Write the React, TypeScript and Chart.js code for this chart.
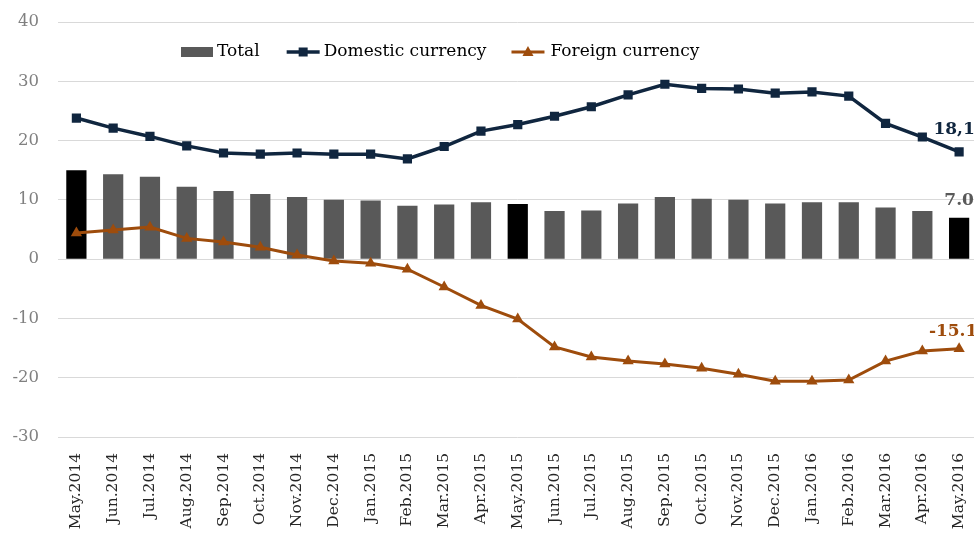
import React, { useEffect, useRef } from "react";
import { Chart, registerables } from "chart.js";

Chart.register(...registerables);

const categories = [
  "May.2014", "Jun.2014", "Jul.2014", "Aug.2014", "Sep.2014", "Oct.2014", "Nov.2014", "Dec.2014",
  "Jan.2015", "Feb.2015", "Mar.2015", "Apr.2015", "May.2015", "Jun.2015", "Jul.2015", "Aug.2015",
  "Sep.2015", "Oct.2015", "Nov.2015", "Dec.2015", "Jan.2016", "Feb.2016", "Mar.2016", "Apr.2016", "May.2016",
];
const total = [15.0, 14.3, 13.9, 12.2, 11.5, 11.0, 10.5, 10.0, 9.9, 9.0, 9.2, 9.6, 9.3, 8.1, 8.2, 9.4, 10.5, 10.2, 10.0, 9.4, 9.6, 9.6, 8.7, 8.1, 7.0];
const domestic = [23.8, 22.1, 20.7, 19.1, 17.9, 17.7, 17.9, 17.7, 17.7, 16.9, 19.0, 21.6, 22.7, 24.1, 25.7, 27.7, 29.5, 28.8, 28.7, 28.0, 28.2, 27.5, 22.9, 20.6, 18.1];
const foreign = [4.4, 4.9, 5.4, 3.5, 2.9, 2.0, 0.7, -0.3, -0.7, -1.7, -4.7, -7.8, -10.1, -14.8, -16.5, -17.2, -17.7, -18.4, -19.4, -20.6, -20.6, -20.4, -17.2, -15.5, -15.1];
const highlighted = ["May.2014", "May.2015", "May.2016"];
const seriesNames = ["Total", "Domestic currency", "Foreign currency"];
const endLabels = ["7.0", "18,1", "-15.1"];
const yMin = -30;
const yMax = 40;
const yStep = 10;

const GREY = "#595959";
const NAVY = "#10263f";
const BROWN = "#9e4c0c";
const FONT = '"DejaVu Serif", serif';

const overlayPlugin = {
  id: "overlay",
  afterDatasetsDraw(chart: any) {
    const ctx = chart.ctx;
    const { left, top } = chart.chartArea;
    ctx.save();
    // legend
    ctx.font = `17px ${FONT}`;
    ctx.textBaseline = "middle";
    ctx.textAlign = "left";
    const ly = top + 30;
    let x = left + 123;
    ctx.fillStyle = GREY;
    ctx.fillRect(x, ly - 5, 32, 10);
    x += 36;
    ctx.fillStyle = "#000";
    ctx.fillText(seriesNames[0], x, ly);
    x += ctx.measureText(seriesNames[0]).width + 27;
    // domestic
    ctx.strokeStyle = NAVY;
    ctx.lineWidth = 3.5;
    ctx.beginPath();
    ctx.moveTo(x, ly);
    ctx.lineTo(x + 33, ly);
    ctx.stroke();
    ctx.fillStyle = NAVY;
    ctx.fillRect(x + 16.5 - 4.5, ly - 4.5, 9, 9);
    x += 37;
    ctx.fillStyle = "#000";
    ctx.fillText(seriesNames[1], x, ly);
    x += ctx.measureText(seriesNames[1]).width + 25;
    // foreign
    ctx.strokeStyle = BROWN;
    ctx.lineWidth = 3;
    ctx.beginPath();
    ctx.moveTo(x, ly);
    ctx.lineTo(x + 33, ly);
    ctx.stroke();
    ctx.fillStyle = BROWN;
    ctx.beginPath();
    ctx.moveTo(x + 16.5, ly - 6);
    ctx.lineTo(x + 22, ly + 4);
    ctx.lineTo(x + 11, ly + 4);
    ctx.closePath();
    ctx.fill();
    x += 39;
    ctx.fillStyle = "#000";
    ctx.fillText(seriesNames[2], x, ly);

    // end labels
    ctx.font = `bold 17px ${FONT}`;
    ctx.textAlign = "center";
    const colors = [GREY, NAVY, BROWN];
    const offsets = [
      [0, -17],
      [-5, -22],
      [-6, -17],
    ];
    for (let i = 0; i < 3; i++) {
      const meta = chart.getDatasetMeta(i);
      const el = meta.data[meta.data.length - 1];
      if (!el) continue;
      ctx.fillStyle = colors[i];
      ctx.fillText(endLabels[i], el.x + offsets[i][0], el.y + offsets[i][1]);
    }
    ctx.restore();
  },
};

export default function App() {
  const ref = useRef<HTMLCanvasElement>(null);
  useEffect(() => {
    if (!ref.current) return;
    const chart = new Chart(ref.current, {
      type: "bar",
      data: {
        labels: categories,
        datasets: [
          {
            type: "bar",
            label: seriesNames[0],
            data: total,
            backgroundColor: categories.map((c) => (highlighted.includes(c) ? "#000000" : GREY)),
            borderWidth: 0,
            barPercentage: 0.55,
            categoryPercentage: 1,
            order: 3,
          },
          {
            type: "line",
            label: seriesNames[1],
            data: domestic,
            borderColor: NAVY,
            backgroundColor: NAVY,
            borderWidth: 3.5,
            pointStyle: "rect",
            pointRadius: 6.5,
            pointBorderWidth: 0,
            tension: 0,
            order: 2,
          },
          {
            type: "line",
            label: seriesNames[2],
            data: foreign,
            borderColor: BROWN,
            backgroundColor: BROWN,
            borderWidth: 3,
            pointStyle: "triangle",
            pointRadius: 6.5,
            pointBorderWidth: 0,
            tension: 0,
            order: 1,
          },
        ],
      },
      options: {
        responsive: false,
        animation: false,
        layout: { padding: { top: 22, left: 0, right: -2, bottom: 0 } },
        plugins: {
          legend: { display: false },
          tooltip: { enabled: false },
        },
        scales: {
          x: {
            grid: { display: false },
            border: { display: false },
            ticks: {
              autoSkip: false,
              maxRotation: 90,
              minRotation: 90,
              padding: 8,
              color: "#262626",
              font: { family: FONT, size: 15.5 },
            },
            afterFit: (s: any) => {
              s.height = 96;
              s.paddingLeft = 0;
              s.paddingRight = 0;
            },
          },
          y: {
            min: yMin,
            max: yMax,
            grid: { color: "#d9d9d9", lineWidth: 1, drawTicks: false },
            border: { display: false },
            ticks: {
              stepSize: yStep,
              padding: 19,
              color: "#808080",
              font: { family: FONT, size: 16.5 },
            },
            afterFit: (s: any) => {
              s.width = 58;
              s.paddingTop = 0;
              s.paddingBottom = 0;
            },
          },
        },
      },
      plugins: [overlayPlugin],
    });
    return () => chart.destroy();
  }, []);
  return (
    <div style={{ position: "absolute", left: 0, top: 0, width: 974, height: 533, overflow: "hidden" }}>
      <canvas ref={ref} width={984} height={533} />
    </div>
  );
}
